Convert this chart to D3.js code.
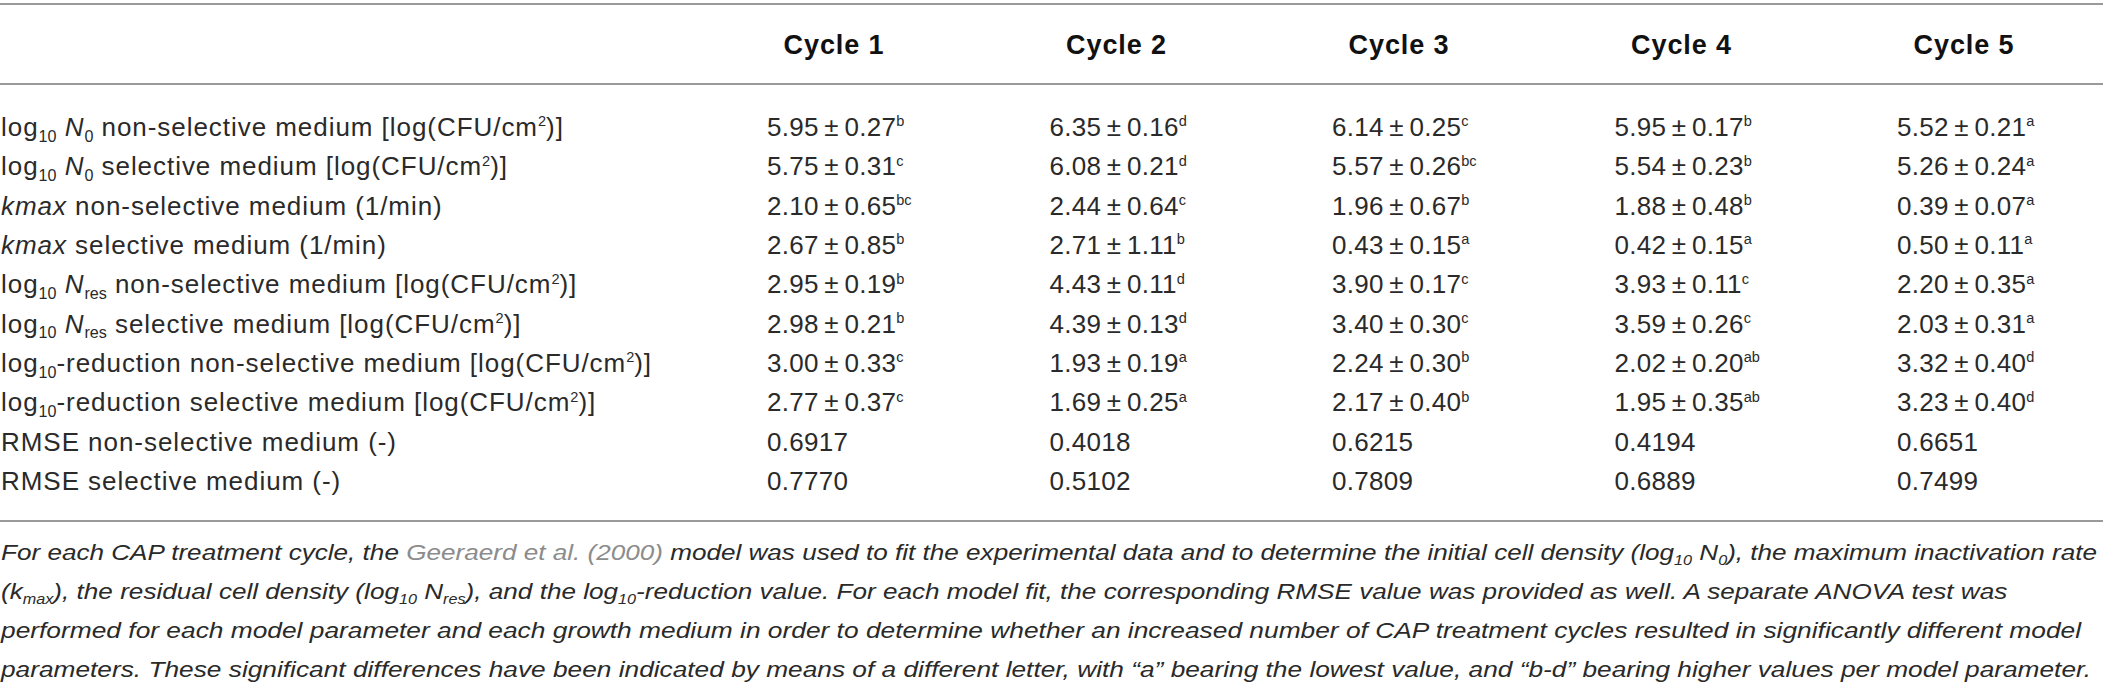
<!DOCTYPE html>
<html>
<head>
<meta charset="utf-8">
<script src="https://cdn.jsdelivr.net/npm/d3@7"></script>
<style>
  body { margin: 0; background: #fff; }
  svg { display: block; font-family: "Liberation Sans", Arial, sans-serif; }
  .rule { stroke: #9a9a9a; stroke-width: 2; }
  .head { font-weight: bold; font-size: 27px; fill: #111; letter-spacing: 0.9px; }
  .cell { font-size: 26px; fill: #2a2a2a; }
  .rowlabel { letter-spacing: 0.95px; }
  .val { letter-spacing: 0.3px; }
  .note { font-size: 22.5px; font-style: italic; fill: #2a2a2a; }
  .link { fill: #8c8c8c; }
</style>
</head>
<body>
<svg id="chart" width="2103" height="685"></svg>
<script>
// ---- data ----
const cycles = ['Cycle 1', 'Cycle 2', 'Cycle 3', 'Cycle 4', 'Cycle 5'];

// row labels as text segments: s = subscript, p = superscript, i = italic
const rowLabels = [
  [['log'], ['10', 's'], [' '], ['N', 'i'], ['0', 's'], [' non-selective medium [log(CFU/cm'], ['2', 'p'], [')]']],
  [['log'], ['10', 's'], [' '], ['N', 'i'], ['0', 's'], [' selective medium [log(CFU/cm'], ['2', 'p'], [')]']],
  [['kmax', 'i'], [' non-selective medium (1/min)']],
  [['kmax', 'i'], [' selective medium (1/min)']],
  [['log'], ['10', 's'], [' '], ['N', 'i'], ['res', 's'], [' non-selective medium [log(CFU/cm'], ['2', 'p'], [')]']],
  [['log'], ['10', 's'], [' '], ['N', 'i'], ['res', 's'], [' selective medium [log(CFU/cm'], ['2', 'p'], [')]']],
  [['log'], ['10', 's'], ['-reduction non-selective medium [log(CFU/cm'], ['2', 'p'], [')]']],
  [['log'], ['10', 's'], ['-reduction selective medium [log(CFU/cm'], ['2', 'p'], [')]']],
  [['RMSE non-selective medium (-)']],
  [['RMSE selective medium (-)']]
];

// mean values per cycle (rows: N0 ns, N0 s, kmax ns, kmax s, Nres ns, Nres s, red ns, red s)
const means = [
  [5.95, 5.75, 2.10, 2.67, 2.95, 2.98, 3.00, 2.77],
  [6.35, 6.08, 2.44, 2.71, 4.43, 4.39, 1.93, 1.69],
  [6.14, 5.57, 1.96, 0.43, 3.90, 3.40, 2.24, 2.17],
  [5.95, 5.54, 1.88, 0.42, 3.93, 3.59, 2.02, 1.95],
  [5.52, 5.26, 0.39, 0.50, 2.20, 2.03, 3.32, 3.23]
];
const sds = [
  [0.27, 0.31, 0.65, 0.85, 0.19, 0.21, 0.33, 0.37],
  [0.16, 0.21, 0.64, 1.11, 0.11, 0.13, 0.19, 0.25],
  [0.25, 0.26, 0.67, 0.15, 0.17, 0.30, 0.30, 0.40],
  [0.17, 0.23, 0.48, 0.15, 0.11, 0.26, 0.20, 0.35],
  [0.21, 0.24, 0.07, 0.11, 0.35, 0.31, 0.40, 0.40]
];
const letters = [
  ['b', 'c', 'bc', 'b', 'b', 'b', 'c', 'c'],
  ['d', 'd', 'c', 'b', 'd', 'd', 'a', 'a'],
  ['c', 'bc', 'b', 'a', 'c', 'c', 'b', 'b'],
  ['b', 'b', 'b', 'a', 'c', 'c', 'ab', 'ab'],
  ['a', 'a', 'a', 'a', 'a', 'a', 'd', 'd']
];
const rmseNonSelective = [0.6917, 0.4018, 0.6215, 0.4194, 0.6651];
const rmseSelective = [0.7770, 0.5102, 0.7809, 0.6889, 0.7499];

const footnote = [
  [['For each CAP treatment cycle, the '], ['Geeraerd et al. (2000)', 'l'], [' model was used to fit the experimental data and to determine the initial cell density (log'], ['10', 's'], [' N'], ['0', 's'], ['), the maximum inactivation rate']],
  [['(k'], ['max', 's'], ['), the residual cell density (log'], ['10', 's'], [' N'], ['res', 's'], ['), and the log'], ['10', 's'], ['-reduction value. For each model fit, the corresponding RMSE value was provided as well. A separate ANOVA test was']],
  [['performed for each model parameter and each growth medium in order to determine whether an increased number of CAP treatment cycles resulted in significantly different model']],
  [['parameters. These significant differences have been indicated by means of a different letter, with \u201ca\u201d bearing the lowest value, and \u201cb-d\u201d bearing higher values per model parameter.']]
];

// ---- layout ----
const svg = d3.select('#chart');
const width = +svg.attr('width');

const yRow = d3.scaleLinear().domain([0, 9]).range([136, 490]);   // baselines
const xCol = d3.scaleLinear().domain([0, 4]).range([767, 1897]);  // left edge of values
const headOffset = 67;
const noteWidths = [2097, 2007, 2081, 2091]; // set width of each footnote line

// writes segments into a text element as tspans
function writeSegments(textSel, segs, fs) {
  let shift = 0;
  segs.forEach(([t, kind]) => {
    const ts = textSel.append('tspan').text(t);
    let target = 0;
    if (kind === 's') { ts.style('font-size', (fs * 0.62) + 'px').style('letter-spacing', '0px'); target = fs * 0.22; }
    if (kind === 'p') { ts.style('font-size', (fs * 0.56) + 'px').style('letter-spacing', '0px'); target = -fs * 0.37; }
    if (kind === 'i') ts.style('font-style', 'italic');
    if (kind === 'l') ts.attr('class', 'link');
    if (target !== shift) { ts.attr('dy', target - shift); shift = target; }
  });
}

// rules
const rules = [4, 84, 521];
svg.selectAll('.rule').data(rules)
  .enter().append('line')
    .attr('class', 'rule')
    .attr('x1', 0).attr('x2', width)
    .attr('y1', d => d).attr('y2', d => d);

// header
svg.selectAll('.head').data(cycles)
  .enter().append('text')
    .attr('class', 'head')
    .attr('x', (d, i) => xCol(i) + headOffset)
    .attr('y', 54)
    .attr('text-anchor', 'middle')
    .text(d => d);

// row labels
svg.selectAll('.rowlabel').data(rowLabels)
  .enter().append('text')
    .attr('class', 'cell rowlabel')
    .attr('x', 1)
    .attr('y', (d, i) => yRow(i))
    .each(function (d) { writeSegments(d3.select(this), d, 26); });

// value cells
const cells = [];
cycles.forEach((c, ci) => {
  means[ci].forEach((m, ri) => {
    cells.push({ ci, ri, segs: [[m.toFixed(2) + '\u2009\u00b1\u2009' + sds[ci][ri].toFixed(2)], [letters[ci][ri], 'p']] });
  });
  cells.push({ ci, ri: 8, segs: [[rmseNonSelective[ci].toFixed(4)]] });
  cells.push({ ci, ri: 9, segs: [[rmseSelective[ci].toFixed(4)]] });
});

svg.selectAll('.val').data(cells)
  .enter().append('text')
    .attr('class', 'cell val')
    .attr('x', d => xCol(d.ci))
    .attr('y', d => yRow(d.ri))
    .each(function (d) { writeSegments(d3.select(this), d.segs, 26); });

// footnote: each line stretched to the width it has in the source
const yNote = d3.scaleLinear().domain([0, 3]).range([560, 677]);
svg.selectAll('.note').data(footnote)
  .enter().append('text')
    .attr('class', 'note')
    .attr('x', 0)
    .attr('y', 0)
    .each(function (d, i) {
      const t = d3.select(this);
      writeSegments(t, d, 22.5);
      const w = this.getComputedTextLength();
      const k = w > 0 ? noteWidths[i] / w : 1;
      t.attr('transform', `translate(1,${yNote(i)}) scale(${k},1)`);
    });
</script>
</body>
</html>
